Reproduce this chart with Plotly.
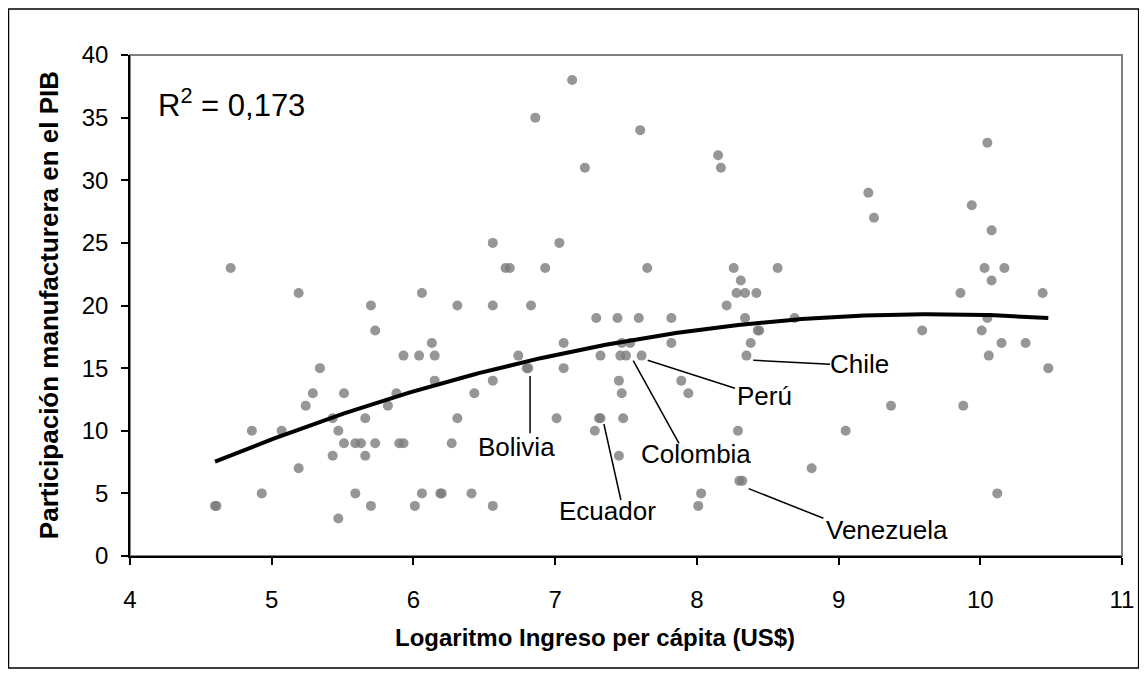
import numpy as np
import plotly.graph_objects as go

# ---- data ----
x_vals = [4.60, 4.61, 4.71, 4.86, 4.93, 5.07, 5.19, 5.19, 5.24, 5.29, 5.34, 5.43, 5.43, 5.47, 5.47,
          5.51, 5.51, 5.59, 5.63, 5.59, 5.66, 5.66, 5.70, 5.70, 5.73, 5.73, 5.82, 5.88, 5.93, 5.90,
          5.93, 6.01, 6.04, 6.06, 6.06, 6.13, 6.15, 6.15, 6.19, 6.20, 6.27, 6.31, 6.31, 6.43, 6.41,
          6.56, 6.56, 6.56, 6.56, 6.65, 6.68, 6.74, 6.80, 6.81, 6.83, 6.86, 6.93, 7.01, 7.03, 7.06,
          7.06, 7.12, 7.21, 7.29, 7.32, 7.28, 7.31, 7.32, 7.44, 7.45, 7.47, 7.48, 7.45, 7.47, 7.53,
          7.46, 7.50, 7.59, 7.60, 7.61, 7.65, 7.82, 7.82, 7.89, 7.94, 8.03, 8.01, 8.15, 8.17, 8.21,
          8.26, 8.31, 8.28, 8.34, 8.42, 8.34, 8.29, 8.30, 8.32, 8.43, 8.44, 8.38, 8.35, 8.57, 8.69,
          8.81, 9.05, 9.21, 9.25, 9.37, 9.59, 9.86, 9.88, 9.94, 10.01, 10.03, 10.05, 10.05, 10.06,
          10.08, 10.08, 10.12, 10.15, 10.17, 10.32, 10.44, 10.48]
y_vals = [4, 4, 23, 10, 5, 10, 21, 7, 12, 13, 15, 11, 8, 10, 3,
          13, 9, 9, 9, 5, 11, 8, 20, 4, 18, 9, 12, 13, 16, 9,
          9, 4, 16, 5, 21, 17, 16, 14, 5, 5, 9, 20, 11, 13, 5,
          25, 20, 14, 4, 23, 23, 16, 15, 15, 20, 35, 23, 11, 25, 17,
          15, 38, 31, 19, 16, 10, 11, 11, 19, 14, 13, 11, 8, 17, 17,
          16, 16, 19, 34, 16, 23, 19, 17, 14, 13, 5, 4, 32, 31, 20,
          23, 22, 21, 21, 21, 19, 10, 6, 6, 18, 18, 17, 16, 23, 19,
          7, 10, 29, 27, 12, 18, 21, 12, 28, 18, 23, 33, 19, 16,
          26, 22, 5, 17, 23, 17, 21, 15]

r2_text = "R<sup>2</sup> = 0,173"

label_names = ["Bolivia", "Ecuador", "Colombia", "Perú", "Chile", "Venezuela"]
label_x = [6.727, 7.370, 7.992, 8.474, 9.150, 9.343]
label_y = [8.73, 3.62, 8.15, 12.78, 15.30, 2.08]
leader_x0 = [6.823, 7.344, 7.551, 7.653, 8.398, 8.366]
leader_y0 = [14.38, 10.54, 15.60, 15.63, 15.63, 5.38]
leader_x1 = [6.823, 7.464, 7.874, 8.269, 8.940, 8.893]
leader_y1 = [9.80, 4.47, 9.00, 13.39, 15.31, 3.01]

x_ticks = [4, 5, 6, 7, 8, 9, 10, 11]
y_ticks = [0, 5, 10, 15, 20, 25, 30, 35, 40]

FONT = "Liberation Sans, Arial, sans-serif"

# quadratic trend fitted on the data
coef = np.polyfit(x_vals, y_vals, 2)
tx = np.linspace(min(x_vals), max(x_vals), 200)
ty = np.polyval(coef, tx)

fig = go.Figure()
fig.add_trace(go.Scatter(
    x=x_vals, y=y_vals, mode="markers",
    marker=dict(size=10, color="rgb(124,124,124)", opacity=0.8, line=dict(width=0)),
    showlegend=False, hoverinfo="x+y"))
fig.add_trace(go.Scatter(
    x=tx, y=ty, mode="lines", line=dict(color="black", width=4),
    showlegend=False, hoverinfo="skip"))

# leader lines
for x0, y0, x1, y1 in zip(leader_x0, leader_y0, leader_x1, leader_y1):
    fig.add_shape(type="line", xref="x", yref="y", x0=x0, y0=y0, x1=x1, y1=y1,
                  line=dict(color="black", width=1.5))

annotations = []
for name, lx, ly in zip(label_names, label_x, label_y):
    annotations.append(dict(x=lx, y=ly, xref="x", yref="y", text=name, showarrow=False,
                            font=dict(family=FONT, size=26, color="black"),
                            xanchor="center", yanchor="middle"))

annotations.append(dict(x=0.026, y=0.905, xref="paper", yref="paper", text=r2_text,
                        showarrow=False, xanchor="left", yanchor="middle",
                        font=dict(family=FONT, size=31, color="black")))
annotations.append(dict(x=0.469, y=-0.162, xref="paper", yref="paper",
                        text="<b>Logaritmo Ingreso per cápita (US$)</b>", showarrow=False,
                        xanchor="center", yanchor="middle",
                        font=dict(family=FONT, size=24, color="black")))
annotations.append(dict(x=-0.082, y=0.5, xref="paper", yref="paper",
                        text="<b>Participación manufacturera en el PIB</b>", showarrow=False,
                        textangle=-90, xanchor="center", yanchor="middle",
                        font=dict(family=FONT, size=26, color="black")))

# plot-area border (gray) and chart border (black)
fig.add_shape(type="rect", xref="paper", yref="paper", x0=0, y0=0, x1=1, y1=1,
              line=dict(color="rgb(128,128,128)", width=2), layer="below")
fig.add_shape(type="rect", xref="paper", yref="paper", x0=-0.1225, y0=-0.2236, x1=1.0168, y1=1.0918,
              line=dict(color="black", width=1.5), layer="below")

fig.update_layout(
    width=1139, height=667,
    margin=dict(l=122, r=25, t=47, b=119),
    paper_bgcolor="white", plot_bgcolor="white",
    font=dict(family=FONT, color="black"),
    annotations=annotations,
    xaxis=dict(range=[4, 11], tickvals=x_ticks, ticks="outside", ticklen=7, tickwidth=1.5,
               tickcolor="black", showline=True, linecolor="black", linewidth=1.5,
               ticklabelstandoff=14,
               showgrid=False, zeroline=False, tickfont=dict(family=FONT, size=24, color="black")),
    yaxis=dict(range=[0, 40], tickvals=y_ticks, ticks="outside", ticklen=7, tickwidth=1.5,
               tickcolor="black", showline=True, linecolor="black", linewidth=1.5,
               ticklabelstandoff=8,
               showgrid=False, zeroline=False, tickfont=dict(family=FONT, size=24, color="black")),
)

fig.write_html("out.html")
